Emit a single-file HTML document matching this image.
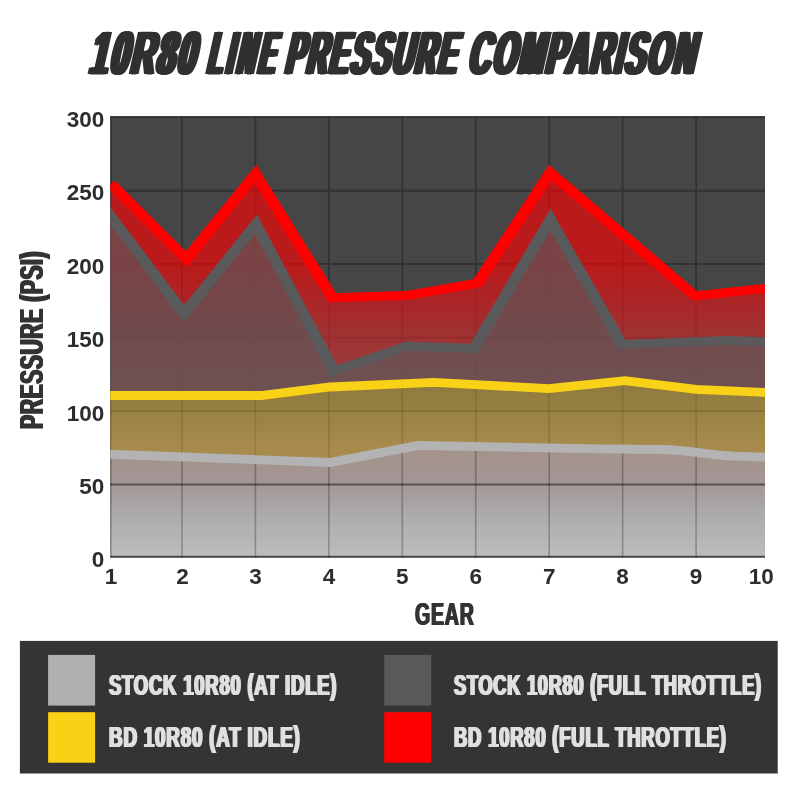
<!DOCTYPE html>
<html lang="en">
<head>
<meta charset="utf-8">
<title>10R80 Line Pressure Comparison</title>
<style>
  html, body { margin: 0; padding: 0; background: #ffffff; }
  body { width: 800px; height: 800px; overflow: hidden; }
  svg { display: block; }
  text { font-family: "Liberation Sans", sans-serif; font-weight: bold; }
  .tick { fill: #2d2d2d; font-size: 22.5px; }
  #stage { position: relative; width: 800px; height: 800px; overflow: hidden; }
  .t { position: absolute; margin: 0; white-space: nowrap; line-height: 1; font-family: "Liberation Sans", sans-serif; font-weight: bold; transform-origin: 0 0; }
  .title { color: #303030; font-size: 61px; top: 22.86px; transform-origin: 0 51.64px; -webkit-text-stroke: 0.8px #303030; }
</style>
</head>
<body>
<div id="stage">
<svg width="800" height="800" viewBox="0 0 800 800">
  <defs>
    <clipPath id="plotclip"><rect x="110.3" y="116.3" width="654.7" height="441.2"/></clipPath>
    <clipPath id="clipYel"><polygon points="104.00,395.5 261.00,395.5 330.00,387 434.00,382.3 549.00,388.7 625.00,380.6 696.00,389.3 770.00,392.6 770,560 104,560"/></clipPath>
    <clipPath id="clipLight"><path d="M104.00,454 L330.00,462.5 L418.00,445.5 L545.00,447.8 L600.00,448.8 L662.00,449.5 C690.00,449.9 702.00,454.6 735.00,456.2 L770.00,457.3 L770,560 L104,560 Z"/></clipPath>
    <linearGradient id="gRed" gradientUnits="userSpaceOnUse" x1="0" y1="160" x2="0" y2="560">
      <stop offset="0" stop-color="rgb(255,0,0)" stop-opacity="0.635"/>
      <stop offset="0.255" stop-color="rgb(255,0,0)" stop-opacity="0.635"/>
      <stop offset="0.3425" stop-color="rgb(232,16,19)" stop-opacity="0.635"/>
      <stop offset="0.4375" stop-color="rgb(210,38,38)" stop-opacity="0.635"/>
      <stop offset="0.5625" stop-color="rgb(205,60,60)" stop-opacity="0.635"/>
      <stop offset="1" stop-color="rgb(200,80,80)" stop-opacity="0.635"/>
    </linearGradient>
    <linearGradient id="gDark" gradientUnits="userSpaceOnUse" x1="0" y1="215" x2="0" y2="557">
      <stop offset="0" stop-color="#58595b" stop-opacity="0.655"/>
      <stop offset="1" stop-color="#58595b" stop-opacity="0.655"/>
    </linearGradient>
    <linearGradient id="gYel" gradientUnits="userSpaceOnUse" x1="0" y1="380" x2="0" y2="480">
      <stop offset="0" stop-color="rgb(142,120,64)"/>
      <stop offset="0.25" stop-color="rgb(149,128,64)"/>
      <stop offset="0.62" stop-color="rgb(165,138,75)"/>
      <stop offset="0.85" stop-color="rgb(169,141,79)"/>
      <stop offset="1" stop-color="rgb(169,141,79)"/>
    </linearGradient>
    <linearGradient id="gLight" gradientUnits="userSpaceOnUse" x1="0" y1="440" x2="0" y2="560">
      <stop offset="0" stop-color="rgb(165,147,138)"/>
      <stop offset="0.2" stop-color="rgb(164,148,142)"/>
      <stop offset="0.317" stop-color="rgb(163,149,147)"/>
      <stop offset="0.417" stop-color="rgb(165,155,155)"/>
      <stop offset="0.583" stop-color="rgb(170,168,168)"/>
      <stop offset="0.75" stop-color="rgb(178,178,178)"/>
      <stop offset="1" stop-color="rgb(190,190,190)"/>
    </linearGradient>
  </defs>

  <rect x="0" y="0" width="800" height="800" fill="#ffffff"/>

  <!-- Plot background -->
  <rect x="110.3" y="116.3" width="654.7" height="441.2" fill="#464646"/>

  <g clip-path="url(#plotclip)">
    <!-- grid (under fills) -->
    <g stroke="#323232" stroke-width="1.8" fill="none">
      <line x1="110.90" y1="100" x2="110.90" y2="570"/>
      <line x1="181.95" y1="100" x2="181.95" y2="570"/>
      <line x1="255.40" y1="100" x2="255.40" y2="570"/>
      <line x1="328.85" y1="100" x2="328.85" y2="570"/>
      <line x1="402.30" y1="100" x2="402.30" y2="570"/>
      <line x1="475.75" y1="100" x2="475.75" y2="570"/>
      <line x1="549.20" y1="100" x2="549.20" y2="570"/>
      <line x1="622.65" y1="100" x2="622.65" y2="570"/>
      <line x1="696.10" y1="100" x2="696.10" y2="570"/>
      <line x1="769.55" y1="100" x2="769.55" y2="570"/>
    </g>
    <g stroke="#323232" stroke-width="2" fill="none">
      <line x1="100" y1="117" x2="780" y2="117"/>
      <line x1="100" y1="190.7" x2="780" y2="190.7"/>
      <line x1="100" y1="264" x2="780" y2="264"/>
      <line x1="100" y1="337.7" x2="780" y2="337.7"/>
      <line x1="100" y1="411" x2="780" y2="411"/>
      <line x1="100" y1="484.5" x2="780" y2="484.5"/>
      <line x1="100" y1="557" x2="780" y2="557"/>
    </g>

    <!-- area fills -->
    <polygon fill="url(#gRed)" points="110.60,183.4 186.40,259 255.50,174 332.50,297.75 407.70,295.25 477.50,283 550.20,172.5 695.00,295.8 770.00,287.9 770,560 110.6,560"/>
    <polygon fill="url(#gDark)" points="104.00,207.3 184.00,313.75 256.00,224.2 334.00,371.2 407.00,346 474.00,348.5 550.40,219.4 621.75,344.5 727.00,340.5 770.00,341.8 770,560 104,560"/>
    <polygon fill="url(#gYel)" points="104.00,395.5 261.00,395.5 330.00,387 434.00,382.3 549.00,388.7 625.00,380.6 696.00,389.3 770.00,392.6 770,560 104,560"/>
    <g clip-path="url(#clipYel)" stroke="#000000" fill="none">
      <g stroke-width="1.7" stroke-opacity="0.11">
      <line x1="110.90" y1="100" x2="110.90" y2="570"/>
      <line x1="181.95" y1="100" x2="181.95" y2="570"/>
      <line x1="255.40" y1="100" x2="255.40" y2="570"/>
      <line x1="328.85" y1="100" x2="328.85" y2="570"/>
      <line x1="402.30" y1="100" x2="402.30" y2="570"/>
      <line x1="475.75" y1="100" x2="475.75" y2="570"/>
      <line x1="549.20" y1="100" x2="549.20" y2="570"/>
      <line x1="622.65" y1="100" x2="622.65" y2="570"/>
      <line x1="696.10" y1="100" x2="696.10" y2="570"/>
      <line x1="769.55" y1="100" x2="769.55" y2="570"/>
      </g>
      <line x1="100" y1="411" x2="780" y2="411" stroke-width="1.8" stroke-opacity="0.12"/>
    </g>
    <path fill="url(#gLight)" d="M104.00,454 L330.00,462.5 L418.00,445.5 L545.00,447.8 L600.00,448.8 L662.00,449.5 C690.00,449.9 702.00,454.6 735.00,456.2 L770.00,457.3 L770,560 L104,560 Z"/>
    <g clip-path="url(#clipLight)" stroke="#000000" fill="none">
      <g stroke-width="1.6" stroke-opacity="0.25">
      <line x1="110.90" y1="100" x2="110.90" y2="570"/>
      <line x1="181.95" y1="100" x2="181.95" y2="570"/>
      <line x1="255.40" y1="100" x2="255.40" y2="570"/>
      <line x1="328.85" y1="100" x2="328.85" y2="570"/>
      <line x1="402.30" y1="100" x2="402.30" y2="570"/>
      <line x1="475.75" y1="100" x2="475.75" y2="570"/>
      <line x1="549.20" y1="100" x2="549.20" y2="570"/>
      <line x1="622.65" y1="100" x2="622.65" y2="570"/>
      <line x1="696.10" y1="100" x2="696.10" y2="570"/>
      <line x1="769.55" y1="100" x2="769.55" y2="570"/>
      </g>
      <line x1="100" y1="484.5" x2="780" y2="484.5" stroke-width="2.2" stroke-opacity="0.48"/>
      <line x1="100" y1="557" x2="780" y2="557" stroke-width="2.4" stroke-opacity="0.6"/>
    </g>

    <!-- lines (stroked, then stretched horizontally) -->
    <g transform="scale(1.32,1)" fill="none" stroke-width="8.8" stroke-linejoin="miter" stroke-miterlimit="10">
      <path stroke="#b3b3b4" d="M78.79,454 L250.00,462.5 L316.67,445.5 L412.88,447.8 L454.55,448.8 L501.52,449.5 C522.73,449.9 531.82,454.6 556.82,456.2 L583.33,457.3"/>
      <polyline stroke="#f9d116" points="78.79,395.5 197.73,395.5 250.00,387 328.79,382.3 415.91,388.7 473.48,380.6 527.27,389.3 583.33,392.6"/>
      <polyline stroke="#5a5a5c" points="78.79,207.3 139.39,313.75 193.94,224.2 253.03,371.2 308.33,346 359.09,348.5 416.97,219.4 471.02,344.5 550.76,340.5 583.33,341.8"/>
      <polyline stroke="#ff0000" points="83.79,183.4 141.21,259 193.56,174 251.89,297.75 308.86,295.25 361.74,283 416.82,172.5 526.52,295.8 583.33,287.9"/>
    </g>
  </g>

  <!-- Y tick labels -->
  <g class="tick" text-anchor="end">
    <text x="104.2" y="126.6">300</text>
    <text x="104.2" y="200.3">250</text>
    <text x="104.2" y="273.6">200</text>
    <text x="104.2" y="347.3">150</text>
    <text x="104.2" y="420.6">100</text>
    <text x="104.2" y="494.1">50</text>
    <text x="104.2" y="566.6">0</text>
  </g>
  <!-- X tick labels -->
  <g class="tick" text-anchor="middle">
    <text x="110.9" y="584.2">1</text>
    <text x="182.4" y="584.2">2</text>
    <text x="255.4" y="584.2">3</text>
    <text x="328.9" y="584.2">4</text>
    <text x="402.3" y="584.2">5</text>
    <text x="475.8" y="584.2">6</text>
    <text x="549.2" y="584.2">7</text>
    <text x="622.6" y="584.2">8</text>
    <text x="696.1" y="584.2">9</text>
    <text x="761.2" y="584.2">10</text>
  </g>

  <!-- Legend -->
  <rect x="19.9" y="640.9" width="757.8" height="132.6" fill="#343434"/>
  <rect x="48.1" y="654.9" width="47" height="50.7" fill="#b0b0b0"/>
  <rect x="48.1" y="712.2" width="47" height="50.5" fill="#f9d116"/>
  <rect x="384.2" y="654.9" width="47" height="50.7" fill="#59595b"/>
  <rect x="384.2" y="712.2" width="47" height="50.5" fill="#ff0000"/>
</svg>

<!-- Title -->
<div class="t title" style="left:87.5px; transform: skewX(-12.5deg) scaleX(0.531); letter-spacing:4.71px; text-shadow: 5.08px 0 0 #303030, -5.08px 0 0 #303030, 3.39px 0 0 #303030, -3.39px 0 0 #303030, 1.69px 0 0 #303030, -1.69px 0 0 #303030;">10R80</div>
<div class="t title" style="left:205.5px; transform: skewX(-12.5deg) scaleX(0.395); letter-spacing:10.13px; text-shadow: 6.84px 0 0 #303030, -6.84px 0 0 #303030, 4.56px 0 0 #303030, -4.56px 0 0 #303030, 2.28px 0 0 #303030, -2.28px 0 0 #303030;">LINE</div>
<div class="t title" style="left:283.5px; transform: skewX(-12.5deg) scaleX(0.456); letter-spacing:5.48px; text-shadow: 5.92px 0 0 #303030, -5.92px 0 0 #303030, 3.95px 0 0 #303030, -3.95px 0 0 #303030, 1.97px 0 0 #303030, -1.97px 0 0 #303030;">PRESSURE</div>
<div class="t title" style="left:466.5px; transform: skewX(-12.5deg) scaleX(0.4894); letter-spacing:5.11px; text-shadow: 5.52px 0 0 #303030, -5.52px 0 0 #303030, 3.68px 0 0 #303030, -3.68px 0 0 #303030, 1.84px 0 0 #303030, -1.84px 0 0 #303030;">COMPARISON</div>

<!-- Axis titles -->
<div class="t" style="left:15.59px; top:428.50px; transform: rotate(-90deg) scaleX(0.6482); font-size:32.5px; color:#333333; letter-spacing:0.93px; text-shadow: 1.54px 0 0 #333333, -1.54px 0 0 #333333;">PRESSURE (PSI)</div>
<div class="t" style="left:414.50px; top:597.74px; transform: scaleX(0.6061); font-size:32.2px; color:#333333; letter-spacing:1.32px; text-shadow: 1.32px 0 0 #333333, -1.32px 0 0 #333333;">GEAR</div>

<!-- Legend labels -->
<div class="t" style="left:108.90px; top:669.64px; transform: scaleX(0.6234); font-size:29.6px; color:#e0e0e0; letter-spacing:1.28px; text-shadow: 1.60px 0 0 #e0e0e0, -1.60px 0 0 #e0e0e0;">STOCK 10R80 (AT IDLE)</div>
<div class="t" style="left:108.90px; top:721.74px; transform: scaleX(0.6354); font-size:29.6px; color:#e0e0e0; letter-spacing:1.26px; text-shadow: 1.57px 0 0 #e0e0e0, -1.57px 0 0 #e0e0e0;">BD 10R80 (AT IDLE)</div>
<div class="t" style="left:453.60px; top:669.64px; transform: scaleX(0.6122); font-size:29.6px; color:#e0e0e0; letter-spacing:1.31px; text-shadow: 1.63px 0 0 #e0e0e0, -1.63px 0 0 #e0e0e0;">STOCK 10R80 (FULL THROTTLE)</div>
<div class="t" style="left:453.60px; top:721.74px; transform: scaleX(0.6225); font-size:29.6px; color:#e0e0e0; letter-spacing:1.29px; text-shadow: 1.61px 0 0 #e0e0e0, -1.61px 0 0 #e0e0e0;">BD 10R80 (FULL THROTTLE)</div>
</div>
</body>
</html>
